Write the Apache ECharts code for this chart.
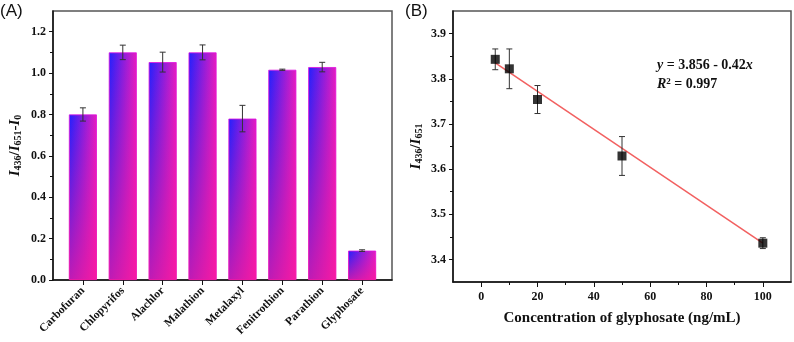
<!DOCTYPE html>
<html>
<head>
<meta charset="utf-8">
<script src="https://cdn.jsdelivr.net/npm/echarts@6/dist/echarts.min.js"></script>
<style>
html, body { margin: 0; padding: 0; background: #fff; }
#main { width: 794px; height: 342px; }
</style>
</head>
<body>
<div id="main"></div>
<script>
// (A) selectivity
var pesticides = ['Carbofuran', 'Chlopyrifos', 'Alachlor', 'Malathion', 'Metalaxyl', 'Fenitrothion', 'Parathion', 'Glyphosate'];
var ratioValues = [0.80, 1.10, 1.053, 1.10, 0.78, 1.016, 1.029, 0.142];
var ratioErrors = [0.032, 0.035, 0.048, 0.036, 0.064, 0.003, 0.023, 0.004];
var ratioTicks = [0, 0.2, 0.4, 0.6, 0.8, 1.0, 1.2];
var ratioMinorTicks = [0.1, 0.3, 0.5, 0.7, 0.9, 1.1];

// (B) calibration
var concentrations = [5, 10, 20, 50, 100];
var intensityRatios = [3.843, 3.822, 3.754, 3.629, 3.436];
var intensityErrors = [0.023, 0.044, 0.031, 0.043, 0.012];
var fitLineX = [5, 100];
var fitLineY = [3.835, 3.436];
var concTicks = [0, 20, 40, 60, 80, 100];
var concMinorTicks = [10, 30, 50, 70, 90];
var ratioBTicks = [3.4, 3.5, 3.6, 3.7, 3.8, 3.9];
var ratioBMinorTicks = [3.45, 3.55, 3.65, 3.75, 3.85];

var serif = 'Liberation Serif';
var labelStyle = { fontFamily: serif, fontWeight: 'bold', fontSize: 12, color: '#111' };

var barData = [], errA = [];
pesticides.forEach(function (name, i) {
    barData.push([i + 1, ratioValues[i]]);
    errA.push([i + 1, ratioValues[i] - ratioErrors[i], ratioValues[i] + ratioErrors[i]]);
});
var pointData = [], errB = [];
concentrations.forEach(function (c, i) {
    pointData.push([c, intensityRatios[i]]);
    errB.push([c, intensityRatios[i] - intensityErrors[i], intensityRatios[i] + intensityErrors[i]]);
});
var fitData = fitLineX.map(function (x, i) { return [x, fitLineY[i]]; });

function errorBar(params, api) {
    var x = api.value(0);
    var top = api.coord([x, api.value(2)]);
    var bot = api.coord([x, api.value(1)]);
    var w = 3;
    var st = { stroke: '#333', lineWidth: 1 };
    return {
        type: 'group',
        children: [
            { type: 'line', shape: { x1: top[0], y1: top[1], x2: bot[0], y2: bot[1] }, style: st },
            { type: 'line', shape: { x1: top[0] - w, y1: top[1], x2: top[0] + w, y2: top[1] }, style: st },
            { type: 'line', shape: { x1: bot[0] - w, y1: bot[1], x2: bot[0] + w, y2: bot[1] }, style: st }
        ]
    };
}

var nameRich = {
    i: { fontFamily: serif, fontWeight: 'bold', fontStyle: 'italic', fontSize: 15, color: '#111' },
    n: { fontFamily: serif, fontWeight: 'bold', fontSize: 15, color: '#111' },
    s: { fontFamily: serif, fontWeight: 'bold', fontSize: 10, color: '#111', verticalAlign: 'bottom', padding: [5, 0, 0, 0] }
};

// hidden axis that only carries the small ticks
function minorAxis(gridIndex, pos, min, max, ticks) {
    return {
        gridIndex: gridIndex, type: 'value', position: pos, min: min, max: max,
        axisLine: { show: false, onZero: false },
        axisTick: { show: true, customValues: ticks, length: 3, lineStyle: { color: '#111', width: 1 } },
        axisLabel: { show: false },
        splitLine: { show: false }
    };
}

var chart = echarts.init(document.getElementById('main'));
var option = {
    animation: false,
    grid: [
        { left: 53, right: 402, top: 11, bottom: 62, show: true, borderColor: '#555', borderWidth: 1.5 },
        { left: 453, right: 3, top: 11, bottom: 60, show: true, borderColor: '#555', borderWidth: 1.5 }
    ],
    xAxis: [
        {
            gridIndex: 0, type: 'value', position: 'bottom', min: 0.25, max: 8.75,
            axisLine: { onZero: false, lineStyle: { color: '#111', width: 1.5 } },
            axisTick: { customValues: [1, 2, 3, 4, 5, 6, 7, 8], length: 5, lineStyle: { color: '#111' } },
            axisLabel: {
                customValues: [1, 2, 3, 4, 5, 6, 7, 8], rotate: 45, margin: 9,
                fontFamily: serif, fontWeight: 'bold', fontSize: 11.5, color: '#111',
                formatter: function (v) { return pesticides[Math.round(v) - 1]; }
            },
            splitLine: { show: false }
        },
        {
            gridIndex: 1, type: 'value', position: 'bottom', min: -10, max: 110,
            name: 'Concentration of glyphosate (ng/mL)', nameLocation: 'middle', nameGap: 29,
            nameTextStyle: { fontFamily: serif, fontWeight: 'bold', fontSize: 15, color: '#111' },
            axisLine: { onZero: false, lineStyle: { color: '#111', width: 1.5 } },
            axisTick: { customValues: concTicks, length: 5, lineStyle: { color: '#111' } },
            axisLabel: Object.assign({ customValues: concTicks, margin: 9 }, labelStyle),
            splitLine: { show: false }
        },
        minorAxis(1, 'bottom', -10, 110, concMinorTicks)
    ],
    yAxis: [
        {
            gridIndex: 0, type: 'value', position: 'left', min: 0, max: 1.3,
            name: '{i|I}{s|436}{n|/}{i|I}{s|651}{n|-}{i|I}{s|0}', nameLocation: 'middle', nameGap: 30,
            nameTextStyle: { rich: nameRich },
            axisLine: { show: true, onZero: false, lineStyle: { color: '#111', width: 1.5 } },
            axisTick: { show: true, customValues: ratioTicks, length: 4, lineStyle: { color: '#111' } },
            axisLabel: Object.assign({ customValues: ratioTicks, margin: 7, formatter: function (v) { return v.toFixed(1); } }, labelStyle),
            splitLine: { show: false }
        },
        minorAxis(0, 'left', 0, 1.3, ratioMinorTicks),
        {
            gridIndex: 1, type: 'value', position: 'left', min: 3.35, max: 3.95,
            name: '{i|I}{s|436}{n|/}{i|I}{s|651}', nameLocation: 'middle', nameGap: 29,
            nameTextStyle: { rich: nameRich },
            axisLine: { show: true, onZero: false, lineStyle: { color: '#111', width: 1.5 } },
            axisTick: { show: true, customValues: ratioBTicks, length: 4, lineStyle: { color: '#111' } },
            axisLabel: Object.assign({ customValues: ratioBTicks, margin: 7, formatter: function (v) { return v.toFixed(1); } }, labelStyle),
            splitLine: { show: false }
        },
        minorAxis(1, 'left', 3.35, 3.95, ratioBMinorTicks)
    ],
    series: [
        {
            type: 'bar', xAxisIndex: 0, yAxisIndex: 0, barWidth: 28, barGap: '-100%',
            data: barData,
            itemStyle: {
                color: new echarts.graphic.LinearGradient(0, 0, 1, 0, [
                    { offset: 0, color: '#2020ff' },
                    { offset: 1, color: '#e81cc0' }
                ]),
                borderColor: '#e010e0', borderWidth: 0.8
            }
        },
        {
            type: 'bar', xAxisIndex: 0, yAxisIndex: 0, barWidth: 28, barGap: '-100%',
            data: barData,
            itemStyle: {
                color: new echarts.graphic.LinearGradient(0, 0, 0, 1, [
                    { offset: 0, color: 'rgba(255,25,150,0)' },
                    { offset: 1, color: 'rgba(255,25,150,0.7)' }
                ])
            }
        },
        {
            type: 'custom', xAxisIndex: 0, yAxisIndex: 0, z: 5,
            data: errA, renderItem: errorBar
        },
        {
            type: 'line', xAxisIndex: 1, yAxisIndex: 2, data: fitData,
            showSymbol: false, symbol: 'none',
            lineStyle: { color: '#f26060', width: 1.5 }
        },
        {
            type: 'custom', xAxisIndex: 1, yAxisIndex: 2, z: 5,
            data: errB, renderItem: errorBar
        },
        {
            type: 'scatter', xAxisIndex: 1, yAxisIndex: 2, z: 6,
            data: pointData, symbol: 'rect', symbolSize: 9,
            itemStyle: { color: '#000' }
        }
    ],
    graphic: [
        { type: 'text', left: 0, top: 3, style: { text: '(A)', font: '17px "Liberation Sans"', fill: '#111' } },
        { type: 'text', left: 405, top: 3, style: { text: '(B)', font: '17px "Liberation Sans"', fill: '#111' } },
        {
            type: 'text', left: 657, top: 58,
            style: {
                text: '{i|y}{n| = 3.856 - 0.42}{i|x}',
                rich: {
                    i: { fontFamily: serif, fontWeight: 'bold', fontStyle: 'italic', fontSize: 14, fill: '#111' },
                    n: { fontFamily: serif, fontWeight: 'bold', fontSize: 14, fill: '#111' }
                }
            }
        },
        {
            type: 'text', left: 657, top: 77,
            style: {
                text: '{i|R}{p|2}{n| = 0.997}',
                rich: {
                    i: { fontFamily: serif, fontWeight: 'bold', fontStyle: 'italic', fontSize: 14, fill: '#111' },
                    p: { fontFamily: serif, fontWeight: 'bold', fontSize: 9, fill: '#111', verticalAlign: 'top' },
                    n: { fontFamily: serif, fontWeight: 'bold', fontSize: 14, fill: '#111' }
                }
            }
        }
    ]
};
chart.setOption(option);
</script>
</body>
</html>
